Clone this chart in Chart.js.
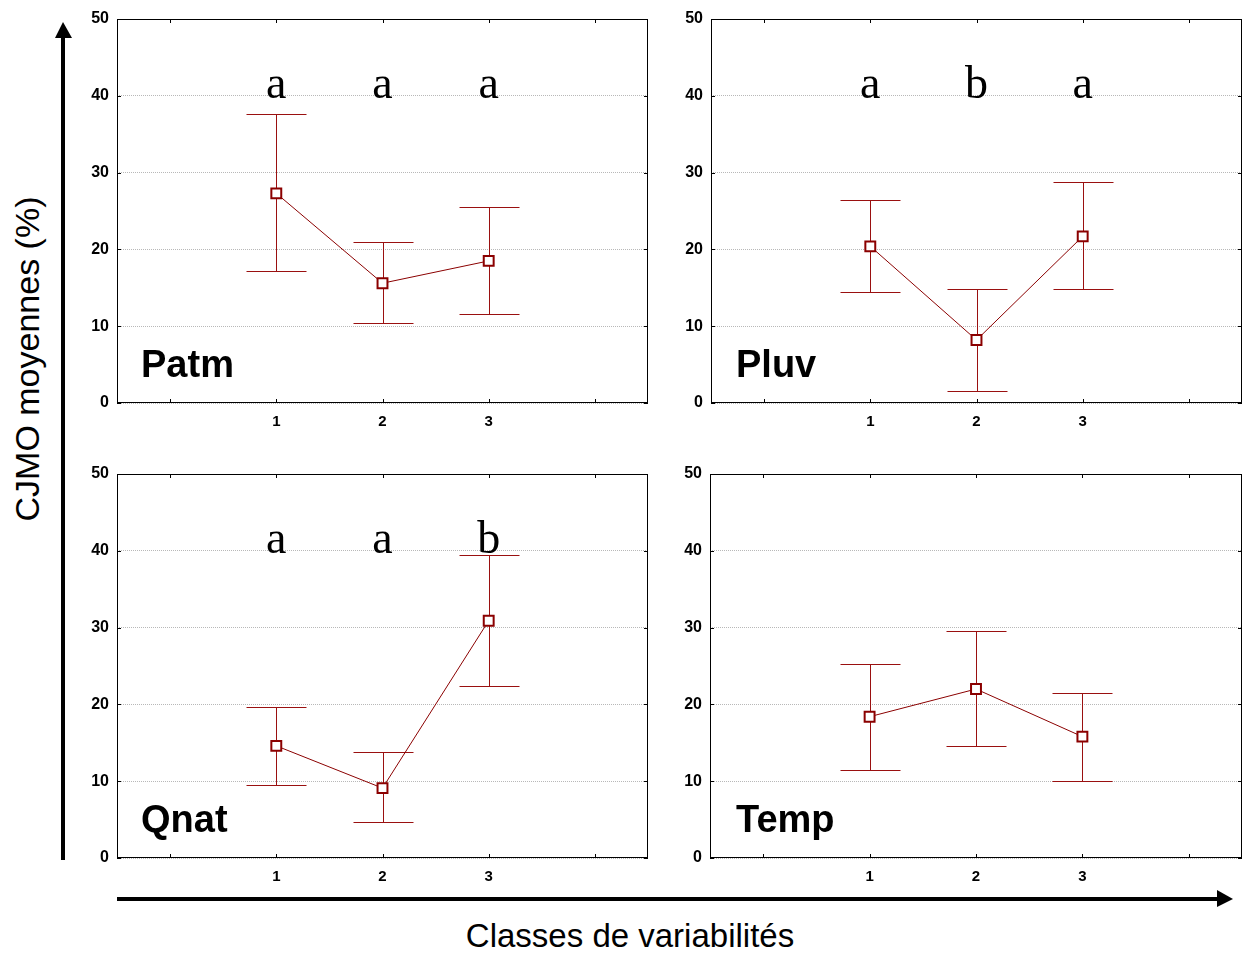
<!DOCTYPE html>
<html>
<head>
<meta charset="utf-8">
<script src="https://cdn.jsdelivr.net/npm/chart.js@4/dist/chart.umd.min.js"></script>
<style>
  html, body { margin: 0; padding: 0; background: #fff; overflow: hidden; }
  #page { position: relative; width: 1247px; height: 956px; }
  canvas { position: absolute; }
  svg { position: absolute; left: 0; top: 0; }
</style>
</head>
<body>
<div id="page">
  <svg width="1247" height="956">
    <line x1="63" y1="860" x2="63" y2="34" stroke="#000" stroke-width="4"/>
    <polygon points="63,22 55,38 72,38" fill="#000"/>
    <line x1="117" y1="899" x2="1220" y2="899" stroke="#000" stroke-width="4"/>
    <polygon points="1233,899 1217,890 1217,907" fill="#000"/>
    <text transform="translate(39,359) rotate(-90)" text-anchor="middle"
          font-family="Liberation Sans, Arial, sans-serif" font-size="34">CJMO moyennes (%)</text>
    <text x="630" y="947" text-anchor="middle"
          font-family="Liberation Sans, Arial, sans-serif" font-size="33">Classes de variabilités</text>
  </svg>
  <canvas id="c1" width="600" height="440" style="left:60px;top:0px"></canvas>
  <canvas id="c2" width="600" height="440" style="left:654px;top:0px"></canvas>
  <canvas id="c3" width="600" height="440" style="left:60px;top:455px"></canvas>
  <canvas id="c4" width="600" height="440" style="left:653px;top:455px"></canvas>
</div>
<script>
// x axis classes
const classes = [1, 2, 3];
const xTicks = [0, 1, 2, 3, 4];
const yTicks = [0, 10, 20, 30, 40, 50];

// Patm
const patmMean = [27.3, 15.6, 18.5];
const patmLow = [17.2, 10.4, 11.6];
const patmHigh = [37.6, 21.0, 25.5];
const patmLetters = ["a", "a", "a"];

// Pluv
const pluvMean = [20.4, 8.2, 21.7];
const pluvLow = [14.5, 1.6, 14.8];
const pluvHigh = [26.4, 14.8, 28.8];
const pluvLetters = ["a", "b", "a"];

// Qnat
const qnatMean = [14.6, 9.1, 30.9];
const qnatLow = [9.5, 4.7, 22.4];
const qnatHigh = [19.7, 13.8, 39.5];
const qnatLetters = ["a", "a", "b"];

// Temp
const tempMean = [18.4, 22.0, 15.8];
const tempLow = [11.5, 14.6, 10.0];
const tempHigh = [25.3, 29.6, 21.5];
const tempLetters = [];

const letterLevel = 39.7;
const labelLevel = 3.4;

const RED = "#8b0000";
const SANS = "'Liberation Sans', Arial, sans-serif";

// error bars, box, inward ticks, letters and panel name
const panelPlugin = {
    id: "panelPlugin",
    beforeDatasetsDraw: (chart) => {
        const { ctx } = chart;
        const p = chart.options.panel;
        const xs = chart.scales.x, ys = chart.scales.y;
        ctx.save();
        ctx.strokeStyle = "#9a1010";
        ctx.lineWidth = 1;
        classes.forEach((c, i) => {
            const px = Math.round(xs.getPixelForValue(c)) + 0.5;
            const lo = Math.round(ys.getPixelForValue(p.low[i])) + 0.5;
            const hi = Math.round(ys.getPixelForValue(p.high[i])) + 0.5;
            ctx.beginPath();
            ctx.moveTo(px, lo); ctx.lineTo(px, hi);
            ctx.moveTo(px - 30, lo); ctx.lineTo(px + 30, lo);
            ctx.moveTo(px - 30, hi); ctx.lineTo(px + 30, hi);
            ctx.stroke();
        });
        ctx.restore();
    },
    afterDraw: (chart) => {
        const { ctx, chartArea: { left, right, top, bottom } } = chart;
        const p = chart.options.panel;
        const xs = chart.scales.x, ys = chart.scales.y;
        ctx.save();
        ctx.strokeStyle = "#000";
        ctx.lineWidth = 1;
        ctx.strokeRect(left + 0.5, top + 0.5, right - left - 1, bottom - top - 1);
        ctx.beginPath();
        xTicks.forEach(v => {
            const px = Math.round(xs.getPixelForValue(v)) + 0.5;
            ctx.moveTo(px, bottom); ctx.lineTo(px, bottom - 4);
            ctx.moveTo(px, top); ctx.lineTo(px, top + 4);
        });
        yTicks.forEach(v => {
            const py = Math.round(ys.getPixelForValue(v)) + 0.5;
            ctx.moveTo(left, py); ctx.lineTo(left + 4, py);
            ctx.moveTo(right, py); ctx.lineTo(right - 4, py);
        });
        ctx.stroke();

        ctx.fillStyle = "#000";
        ctx.font = "46px 'Liberation Serif', 'Times New Roman', serif";
        ctx.textAlign = "center";
        ctx.textBaseline = "alphabetic";
        p.letters.forEach((l, i) => {
            ctx.fillText(l, xs.getPixelForValue(classes[i]), ys.getPixelForValue(letterLevel));
        });

        ctx.font = "bold 38px " + SANS;
        ctx.textAlign = "left";
        ctx.fillText(p.name, left + p.nameOffset, ys.getPixelForValue(labelLevel));
        ctx.restore();
    }
};

function createPanel(id, name, mean, low, high, letters, nameOffset, padRight) {
    return new Chart(document.getElementById(id), {
        type: "line",
        data: {
            datasets: [{
                data: classes.map((c, i) => ({ x: c, y: mean[i] })),
                borderColor: RED,
                borderWidth: 1,
                pointStyle: "rect",
                pointRadius: 7,
                pointBorderWidth: 2,
                pointBorderColor: RED,
                pointBackgroundColor: "#fff",
                tension: 0
            }]
        },
        plugins: [panelPlugin],
        options: {
            responsive: false,
            animation: false,
            devicePixelRatio: 1,
            panel: { name, low, high, letters, nameOffset },
            layout: { padding: { left: 0, top: 19, right: padRight, bottom: 7 } },
            plugins: { legend: { display: false }, tooltip: { enabled: false } },
            scales: {
                x: {
                    type: "linear",
                    min: -0.5,
                    max: 4.5,
                    afterBuildTicks: (s) => { s.ticks = xTicks.map(v => ({ value: v })); },
                    afterFit: (s) => { s.height = 30; },
                    grid: { display: false, drawTicks: false },
                    border: { display: false },
                    ticks: {
                        padding: 10,
                        color: "#000",
                        font: { family: SANS, size: 15, weight: "bold" },
                        callback: (v) => classes.includes(v) ? String(v) : ""
                    }
                },
                y: {
                    min: 0,
                    max: 50,
                    afterBuildTicks: (s) => { s.ticks = yTicks.map(v => ({ value: v })); },
                    afterFit: (s) => { s.width = 57; },
                    grid: { color: "#b8b8b8", lineWidth: 1, drawTicks: false },
                    border: { display: false, dash: [1, 1] },
                    ticks: {
                        padding: 8,
                        color: "#000",
                        font: { family: SANS, size: 16, weight: "bold" }
                    }
                }
            }
        }
    });
}

createPanel("c1", "Patm", patmMean, patmLow, patmHigh, patmLetters, 24, 12);
createPanel("c2", "Pluv", pluvMean, pluvLow, pluvHigh, pluvLetters, 25, 12);
createPanel("c3", "Qnat", qnatMean, qnatLow, qnatHigh, qnatLetters, 24, 12);
createPanel("c4", "Temp", tempMean, tempLow, tempHigh, tempLetters, 26, 11);
</script>
</body>
</html>
